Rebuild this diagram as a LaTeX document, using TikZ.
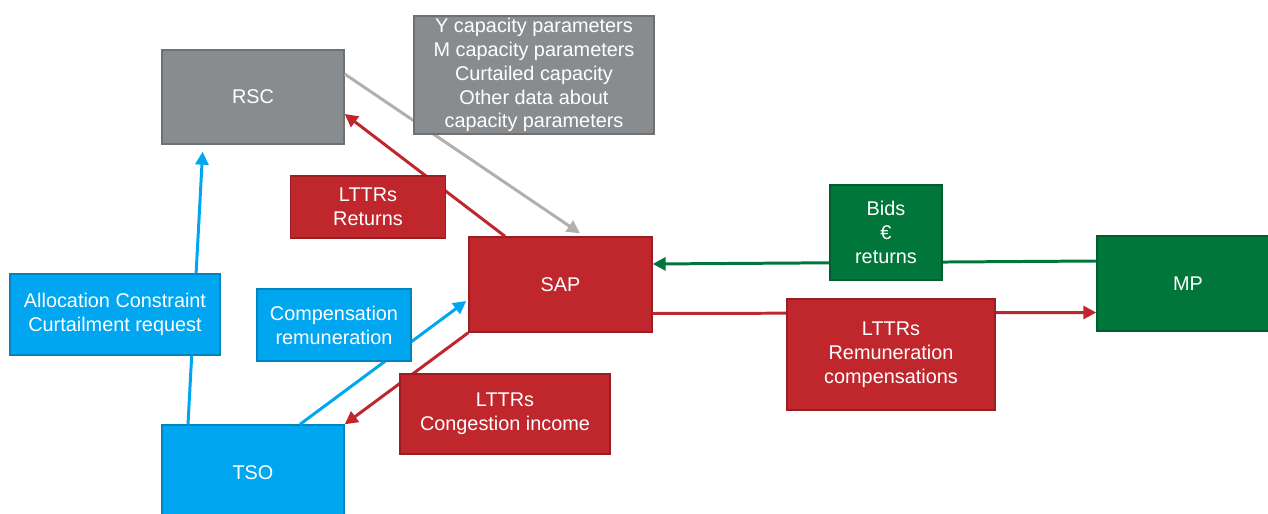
\documentclass[tikz,border=0pt]{standalone}
\usepackage{fontspec}
\setmainfont{Liberation Sans}
\usepackage{tikz}
\usetikzlibrary{arrows.meta}

\definecolor{rscgray}{HTML}{898C8E}
\definecolor{flowgray}{HTML}{B3AFAC}
\definecolor{sapred}{HTML}{C0272D}
\definecolor{tsoblue}{HTML}{00A6F0}
\definecolor{mpgreen}{HTML}{00763A}

\begin{document}
\begin{tikzpicture}[
  box/.style={draw=#1!80!black, fill=#1, line width=0.8pt, text=white, align=center,
    inner sep=0pt, font=\fontsize{11.3}{13.6}\selectfont},
  flow/.style={draw=#1, line width=1.7pt, -{Triangle[length=0.26cm,width=0.26cm]}},
]
\useasboundingbox (0,0) rectangle (25.36,-10.28);

  \draw (5.06,-1.94) node[box=rscgray, minimum width=3.64cm, minimum height=1.88cm] (RSC) {RSC};
  \draw (11.21,-5.69) node[box=sapred, minimum width=3.66cm, minimum height=1.9cm] (SAP) {SAP};
  \draw (23.76,-5.67) node[box=mpgreen, minimum width=3.64cm, minimum height=1.9cm] (MP) {MP};
  \draw (5.06,-9.45) node[box=tsoblue, minimum width=3.64cm, minimum height=1.9cm] (TSO) {TSO};

     % flows between the actors
     \path ([yshift=0.46cm]RSC.east) edge[flow=flowgray] ([xshift=0.39cm,yshift=0.06cm]SAP.north);
     \path ([xshift=-1.11cm]SAP.north) edge[flow=sapred] ([yshift=-0.34cm]RSC.east);
     \path ([xshift=-1.3cm]TSO.north) edge[flow=tsoblue, shorten >=0.14cm] ([xshift=-1.0cm]RSC.south);
     \path ([xshift=0.94cm]TSO.north) edge[flow=tsoblue] ([xshift=-0.04cm,yshift=-0.33cm]SAP.west);
     \path (SAP.south west) edge[flow=sapred] (TSO.north east);
     \path ([yshift=0.45cm]MP.west) edge[flow=mpgreen] ([yshift=0.41cm]SAP.east);
     \path ([yshift=-0.58cm]SAP.east) edge[flow=sapred] ([yshift=-0.58cm]MP.west);

  % labels on the flows
  \draw (10.68,-1.5) node[box=rscgray, minimum width=4.8cm, minimum height=2.36cm] (params)
    {Y capacity parameters\\M capacity parameters\\Curtailed capacity\\Other data about\\capacity parameters};
  \draw (7.36,-4.14) node[box=sapred, minimum width=3.1cm, minimum height=1.24cm] (returns) {LTTRs\\Returns};
  \draw (17.72,-4.65) node[box=mpgreen, minimum width=2.24cm, minimum height=1.9cm] (bids) {Bids\\€\\returns};
  \draw (17.82,-7.09) node[box=sapred, minimum width=4.16cm, minimum height=2.22cm] (remun) {LTTRs\\Remuneration\\compensations};
  \draw (2.30,-6.29) node[box=tsoblue, minimum width=4.2cm, minimum height=1.62cm] (alloc) {Allocation Constraint\\Curtailment request};
  \draw (6.68,-6.5) node[box=tsoblue, minimum width=3.08cm, minimum height=1.44cm] (comp) {Compensation\\remuneration};
  \draw (10.10,-8.28) node[box=sapred, minimum width=4.2cm, minimum height=1.6cm] (congestion) {LTTRs\\Congestion income};

\end{tikzpicture}
\end{document}
